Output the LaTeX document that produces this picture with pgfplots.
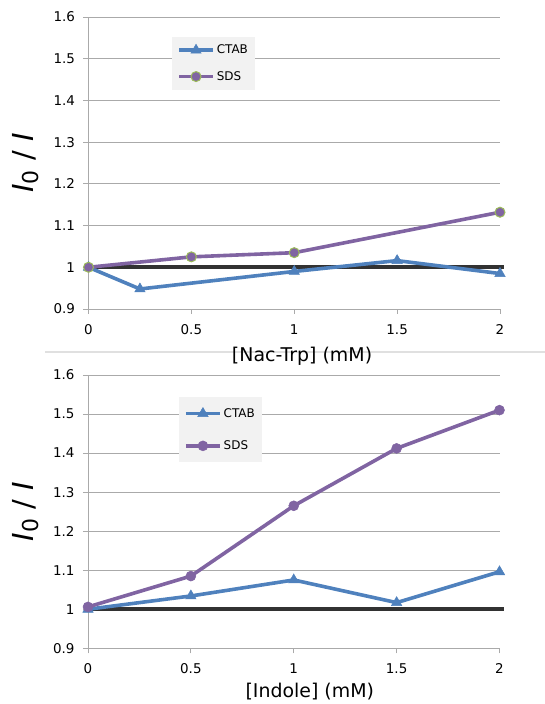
\documentclass[border=0pt]{standalone}
\usepackage{pgfplots}
\pgfplotsset{compat=1.18}
\usepackage{fontspec}
\setmainfont{DejaVu Sans}
\setsansfont{DejaVu Sans}
\definecolor{ctab}{RGB}{79,129,189}
\definecolor{sds}{RGB}{128,100,162}
\definecolor{sdsedge}{RGB}{155,187,89}
\definecolor{refline}{RGB}{50,50,50}
\definecolor{gridc}{RGB}{170,170,170}
\definecolor{legbg}{RGB}{242,242,242}

\pgfplotsset{
  panel/.style={
    scale only axis, width=411.5bp,
    xmin=0, xmax=2, ymin=0.9, ymax=1.6,
    xtick={0,0.5,1,1.5,2}, ytick={0.9,1,...,1.6},
    axis lines*=left,
    axis line style={gridc, line width=0.8bp},
    ymajorgrids, grid style={gridc, line width=0.8bp},
    tick align=outside, major tick length=5bp,
    tick style={gridc, line width=0.8bp},
    tick label style={font=\fontsize{13.5}{15}\selectfont},
    xticklabel style={yshift=-7bp},
    yticklabel style={xshift=-5bp},
    /pgf/number format/assume math mode=true,
    yticklabel={\pgfmathprintnumber[fixed,precision=1]{\tick}},
    label style={font=\fontsize{19}{22}\selectfont},
    ylabel={\fontsize{29}{30}\selectfont\itshape I\raisebox{-5bp}{\upshape\fontsize{22}{24}\selectfont 0}\upshape\ /\ \itshape I},
    ylabel style={at={(axis description cs:-0.152,0.5)}, anchor=center},
    clip=false,
    legend cell align=left,
    legend image code/.code={
      \draw[mark repeat=2,mark phase=2] plot coordinates {(0bp,0bp)(17bp,0bp)(34bp,0bp)};},
  },
  ctabs/.style={ctab, line width=3.6bp, mark=triangle*, mark size=6bp,
    mark options={fill=ctab, draw=ctab, line width=0.5bp}},
}

\begin{document}
\begin{tikzpicture}
\useasboundingbox (0,0) rectangle (545bp,704bp);
\draw[black!12, line width=1.2bp] (45bp,352bp) -- (545bp,352bp);

% top panel: Nac-Trp
\begin{axis}[panel, height=292bp,
  at={(88.5bp,395bp)}, anchor=south west,
  xlabel={[Nac-Trp] (mM)},
  xlabel style={at={(axis description cs:0.519,-0.161)}, anchor=center},
  legend style={at={(axis description cs:0.203,0.932)}, anchor=north west,
    fill=legbg, draw=none, font=\fontsize{12}{14}\selectfont,
    inner xsep=5bp, inner ysep=6bp, row sep=12bp},
]
  \addplot[refline, line width=3.6bp, forget plot] coordinates {(0,1)(2.02,1)};
  \addplot[ctabs] coordinates {(0,1.0)(0.25,0.948)(1,0.99)(1.5,1.016)(2,0.985)};
  \addplot[sds, line width=3.6bp, mark=*, mark size=5bp,
    mark options={fill=sds, draw=sdsedge, line width=1bp}]
    coordinates {(0,1.0)(0.5,1.025)(1,1.035)(2,1.132)};
  \legend{CTAB,SDS}
\end{axis}

% bottom panel: Indole
\begin{axis}[panel, height=273.3bp,
  at={(88bp,55.7bp)}, anchor=south west,
  xlabel={[Indole] (mM)},
  xlabel style={at={(axis description cs:0.539,-0.16)}, anchor=center},
  legend style={at={(axis description cs:0.221,0.919)}, anchor=north west,
    fill=legbg, draw=none, font=\fontsize{12}{14}\selectfont,
    inner xsep=5bp, inner ysep=9bp, row sep=18bp},
]
  \addplot[refline, line width=3.6bp, forget plot] coordinates {(0,1)(2.02,1)};
  \addplot[ctabs] coordinates {(0,1.0)(0.5,1.034)(1,1.075)(1.5,1.017)(2,1.096)};
  \addplot[sds, line width=3.6bp, mark=*, mark size=5bp,
    mark options={fill=sds, draw=sds, line width=0.5bp}]
    coordinates {(0,1.006)(0.5,1.085)(1,1.265)(1.5,1.412)(2,1.510)};
  \legend{CTAB,SDS}
\end{axis}
\end{tikzpicture}
\end{document}
